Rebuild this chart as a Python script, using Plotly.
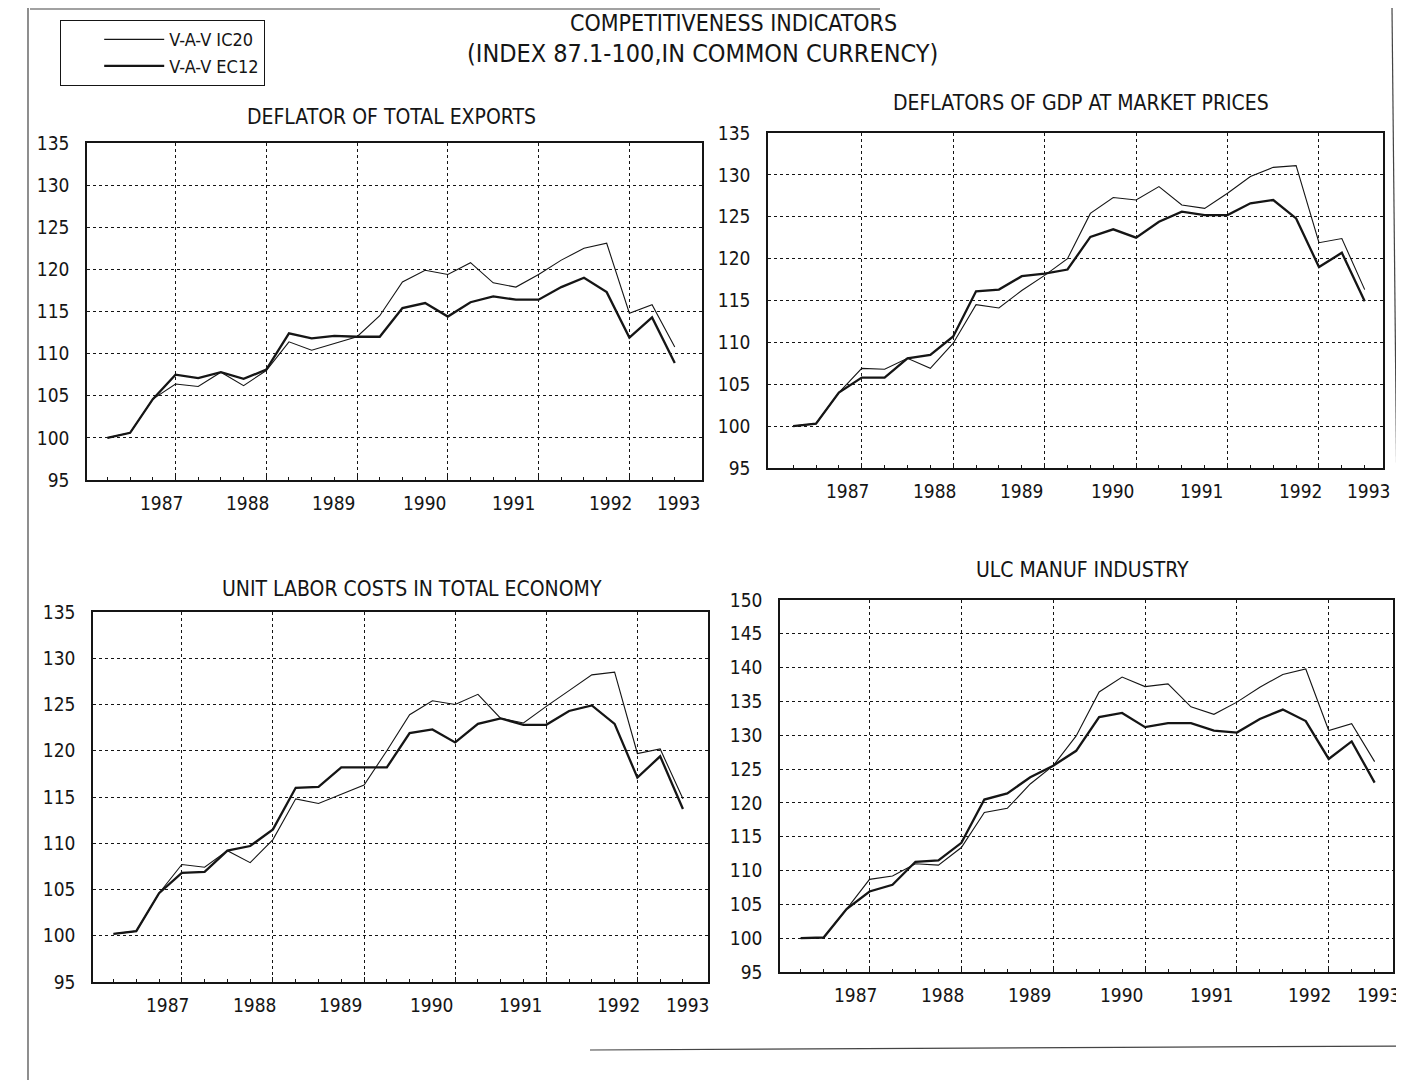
import plotly.graph_objects as go

# ---------------- data ----------------
quarters = list(range(1, 27))          # 26 quarterly observations
year_labels = ["1987", "1988", "1989", "1990", "1991", "1992", "1993"]
year_label_pos = [3.4, 7.2, 11.0, 15.0, 18.9, 23.2, 26.2]
year_grid = [4, 8, 12, 16, 20, 24]

series_names = ["V-A-V IC20", "V-A-V EC12"]

title_main = "COMPETITIVENESS INDICATORS"
title_sub = "(INDEX 87.1-100,IN COMMON CURRENCY)"
panel_titles = ["DEFLATOR OF TOTAL EXPORTS", "DEFLATORS OF GDP AT MARKET PRICES",
                "UNIT LABOR COSTS IN TOTAL ECONOMY", "ULC MANUF INDUSTRY"]

exports_ic20 = [100, 100.6, 104.6, 106.4, 106.1, 107.8, 106.2, 108.0, 111.4, 110.4, 111.2, 112.0, 114.5,
                118.5, 119.9, 119.4, 120.8, 118.4, 117.9, 119.4, 121.1, 122.5, 123.1, 114.8, 115.8, 110.8]
exports_ec12 = [100, 100.6, 104.6, 107.5, 107.1, 107.8, 107.0, 108.1, 112.4, 111.8, 112.1, 112.0, 112.0,
                115.4, 116.0, 114.4, 116.1, 116.8, 116.4, 116.4, 117.9, 119.0, 117.3, 111.9, 114.3, 108.9]

gdp_ic20 = [100, 100.3, 104.0, 106.9, 106.8, 108.1, 106.9, 109.9, 114.5, 114.1, 116.2, 118.0, 120.0,
            125.4, 127.3, 127.0, 128.6, 126.4, 126.0, 127.8, 129.8, 130.9, 131.1, 121.9, 122.4, 116.3]
gdp_ec12 = [100, 100.3, 104.0, 105.8, 105.8, 108.1, 108.5, 110.7, 116.1, 116.3, 117.9, 118.2, 118.7,
            122.6, 123.5, 122.5, 124.4, 125.6, 125.2, 125.2, 126.6, 127.0, 124.8, 119.0, 120.7, 114.9]

ulc_total_ic20 = [100.2, 100.5, 104.6, 107.7, 107.4, 109.2, 107.9, 110.4, 114.8, 114.3, 115.3, 116.3, 120.0,
                  123.9, 125.4, 125.0, 126.1, 123.5, 123.0, 124.8, 126.5, 128.2, 128.5, 119.7, 120.2, 114.8]
ulc_total_ec12 = [100.2, 100.5, 104.6, 106.8, 106.9, 109.2, 109.7, 111.5, 116.0, 116.1, 118.2, 118.2, 118.2,
                  121.9, 122.3, 120.9, 122.9, 123.5, 122.8, 122.8, 124.3, 124.9, 122.9, 117.1, 119.4, 113.7]

ulc_manuf_ic20 = [100.0, 100.1, 104.3, 108.7, 109.2, 111.0, 110.8, 113.4, 118.6, 119.2, 122.8, 125.5, 129.9,
                  136.4, 138.6, 137.2, 137.6, 134.2, 133.1, 134.9, 137.1, 139.0, 139.8, 130.7, 131.7, 126.1]
ulc_manuf_ec12 = [100.0, 100.1, 104.3, 106.9, 107.9, 111.3, 111.5, 114.1, 120.5, 121.4, 123.8, 125.5, 127.7,
                  132.7, 133.3, 131.2, 131.8, 131.8, 130.7, 130.4, 132.4, 133.8, 132.1, 126.5, 129.1, 123.0]

panel_data = [(exports_ic20, exports_ec12), (gdp_ic20, gdp_ec12),
              (ulc_total_ic20, ulc_total_ec12), (ulc_manuf_ic20, ulc_manuf_ec12)]

# ---------------- layout geometry (page pixels) ----------------
PAGE_W, PAGE_H = 1404, 1080
OFF = 8                                  # default body margin of the html page
W, H = PAGE_W - OFF, PAGE_H - OFF


def px(x):
    return (x - OFF) / W


def py(y):
    return 1 - (y - OFF) / H


FONT = "Liberation Sans Narrow, DejaVu Sans Condensed, Roboto Condensed, Arial Narrow, sans-serif"
INK = "#151515"

panels = [
    dict(x=(87, 702), y=(143, 480), xr=[0.1, 27.2], yr=[95, 135], title=(391, 117)),
    dict(x=(768, 1383), y=(133, 468), xr=[-0.1, 26.8], yr=[95, 135], title=(1081, 103)),
    dict(x=(93, 708), y=(612, 982), xr=[0.1, 27.1], yr=[95, 135], title=(412, 589)),
    dict(x=(780, 1393), y=(600, 972), xr=[0.1, 26.8], yr=[95, 150], title=(1082, 570)),
]

fig = go.Figure()
annotations = []
shapes = []
line_widths = [1.1, 2.3]

for i, (p, data) in enumerate(zip(panels, panel_data)):
    n = "" if i == 0 else str(i + 1)
    for k, (vals, name) in enumerate(zip(data, series_names)):
        fig.add_trace(go.Scatter(
            x=quarters, y=vals, mode="lines", name=name,
            line=dict(color=INK, width=line_widths[k]),
            xaxis="x" + n, yaxis="y" + n,
            showlegend=(i == 0), legendrank=k + 1,
        ))
    xd = [px(p["x"][0]), px(p["x"][1])]
    yd = [py(p["y"][1]), py(p["y"][0])]
    fig.layout["xaxis" + n] = dict(
        domain=xd, range=p["xr"], anchor="y" + n,
        tickvals=year_grid, showticklabels=False, ticks="inside", ticklen=5,
        tickcolor=INK, showgrid=True, gridcolor=INK, griddash="dot", gridwidth=1,
        minor=dict(tickvals=quarters, ticks="inside", ticklen=3, tickcolor=INK, showgrid=False),
        showline=True, linecolor=INK, linewidth=1.6, mirror=True, zeroline=False,
        automargin=False, fixedrange=True,
    )
    ytv = list(range(p["yr"][0], p["yr"][1] + 1, 5))
    fig.layout["yaxis" + n] = dict(
        domain=yd, range=p["yr"], anchor="x" + n,
        tickvals=ytv, ticktext=[str(v) for v in ytv], ticks="", ticklabelstandoff=12,
        tickfont=dict(family=FONT, size=19, color=INK),
        showgrid=True, gridcolor=INK, griddash="dot", gridwidth=1,
        showline=True, linecolor=INK, linewidth=1.6, mirror=True, zeroline=False,
        automargin=False, fixedrange=True,
    )
    for lab, pos in zip(year_labels, year_label_pos):
        annotations.append(dict(
            text=lab, x=pos, xref="x" + n, y=0, yref="y" + n + " domain",
            xanchor="center", yanchor="middle",
            yshift=-23, showarrow=False, font=dict(family=FONT, size=19, color=INK),
        ))
    annotations.append(dict(
        text=panel_titles[i], x=px(p["title"][0]), y=py(p["title"][1]),
        xref="paper", yref="paper", xanchor="center", yanchor="middle", showarrow=False,
        font=dict(family=FONT, size=21, color=INK),
    ))

annotations.append(dict(text=title_main, x=px(733), y=py(23), xref="paper", yref="paper",
                        xanchor="center", yanchor="middle",
                        showarrow=False, font=dict(family=FONT, size=23, color=INK)))
annotations.append(dict(text=title_sub, x=px(702), y=py(54), xref="paper", yref="paper",
                        xanchor="center", yanchor="middle",
                        showarrow=False, font=dict(family=FONT, size=25, color=INK)))

# page frame lines of the scanned sheet
frame = [
    (28, 8, 28, 1080),
    (30, 9, 880, 9),
    (1392, 8, 1402, 1000),
    (590, 1050, 1404, 1046),
]
for x0, y0, x1, y1 in frame:
    shapes.append(dict(type="line", xref="paper", yref="paper",
                       x0=px(x0), y0=py(y0), x1=px(x1), y1=py(y1),
                       line=dict(color="#444", width=1.2)))

fig.update_layout(
    width=W, height=H, margin=dict(l=0, r=0, t=0, b=0),
    paper_bgcolor="white", plot_bgcolor="white",
    font=dict(family=FONT, color=INK),
    annotations=annotations, shapes=shapes,
    legend=dict(x=px(60), y=py(20), xanchor="left", yanchor="top",
                bordercolor=INK, borderwidth=1.2, bgcolor="white",
                font=dict(family=FONT, size=18, color=INK), indentation=38,
                itemwidth=60, tracegroupgap=0, traceorder="normal"),
    showlegend=True,
)

fig.write_html("out.html")
